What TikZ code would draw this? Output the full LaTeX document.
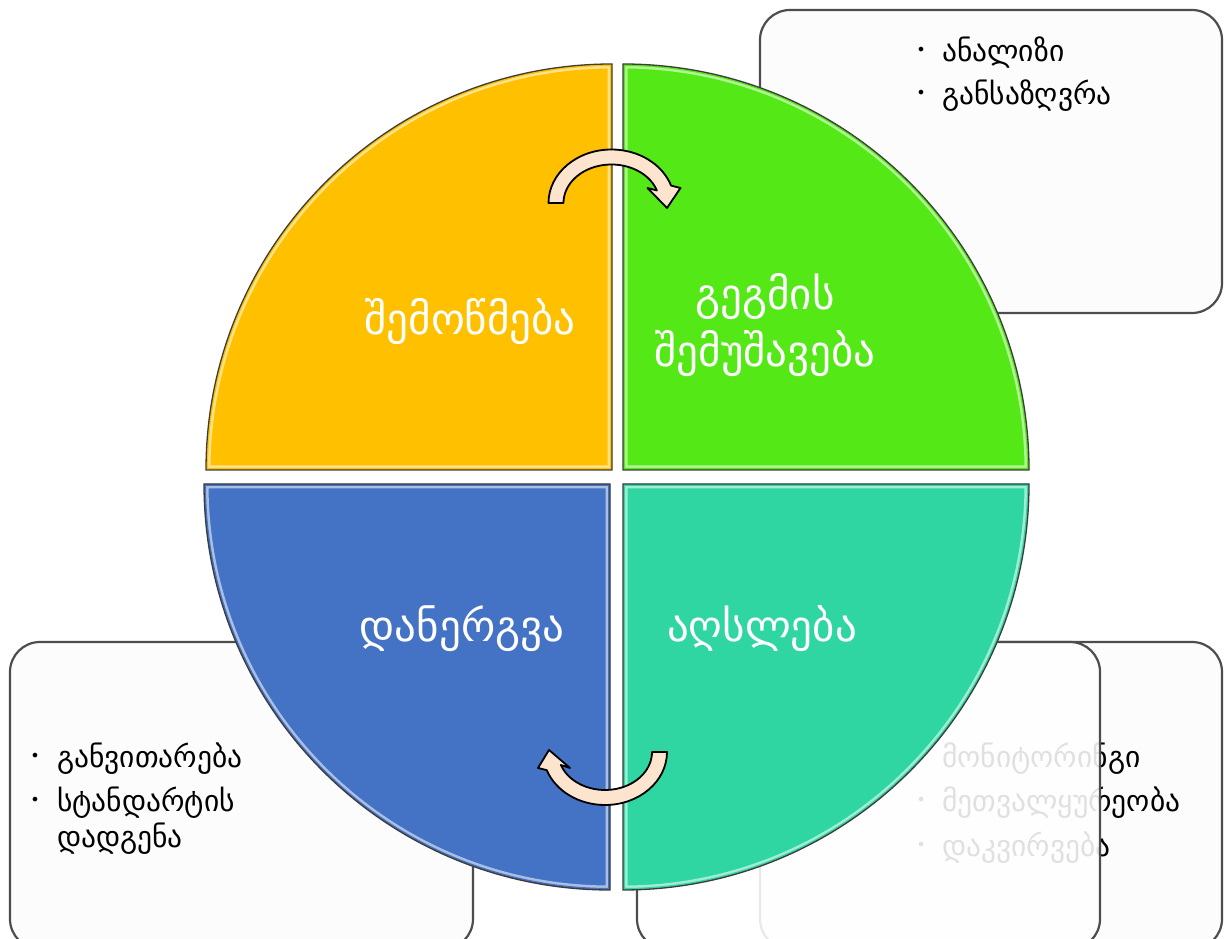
\documentclass[tikz,border=0pt]{standalone}
\usepackage{fontspec}
\setmainfont{DejaVu Sans}
\definecolor{qorange}{HTML}{FFC000}
\definecolor{qgreen}{HTML}{55E817}
\definecolor{qblue}{HTML}{4472C4}
\definecolor{qteal}{HTML}{2FD6A2}
\definecolor{qline}{HTML}{3C3C3C}
\definecolor{cardfill}{HTML}{FCFCFC}
\definecolor{cardline}{HTML}{4D4D4D}
\definecolor{arrowfill}{HTML}{FDE4CE}
\newcommand{\quadshape}[2]{%
  \fill[#1] #2;
  \begin{scope}
    \clip #2;
    \draw[white, opacity=.55, line width=9pt] #2;
    \draw[#1, line width=4pt] #2;
  \end{scope}
  \draw[qedge] #2;
}
\tikzset{
  card/.style={fill=cardfill, draw=cardline, line width=2.2pt, rounded corners=30pt},
  qlabel/.style={text=white, font=\fontsize{43}{48}\selectfont, anchor=base, inner sep=0pt},
  item/.style={font=\fontsize{29.5}{34}\selectfont, anchor=base west, inner sep=0pt},
  bul/.style={font=\fontsize{16}{18}\selectfont, anchor=base, inner sep=0pt},
  qedge/.style={draw=qline, line width=1.3pt},
  cyc/.style={fill=arrowfill, draw=black, line width=1.8pt, line join=round},
}
\begin{document}
\begin{tikzpicture}[x=1pt, y=1pt]
\useasboundingbox (0,0) rectangle (1228,939);
\fill[white] (0,0) rectangle (1228,939);
\clip (0,0) rectangle (1228,939);

% cards
\draw[card] (760,626) rectangle (1222,929);
\draw[card] (10,-10) rectangle (473,297);
\draw[card] (760,-10) rectangle (1222,297);

% texts of the back card (partly covered)
\node[item] (m1) at (942,171) {მონიტორინგი};
\node[bul] (mb2) at (921,133) {•};
\node[item] (m2) at (942,127) {მეთვალყურეობა};
\node[bul] (mb3) at (921,88) {•};
\node[item] (m3) at (942,82) {დაკვირვება};

% front card with translucent fill
\draw[card, fill=white, fill opacity=0.88] (637,-10) rectangle (1100,297);

% texts of the other cards
\node[bul] (ab1) at (921,883) {•};
\node[item] (a1) at (942,877) {ანალიზი};
\node[bul] (ab2) at (921,840) {•};
\node[item] (a2) at (942,834) {განსაზღვრა};

\node[bul] (db1) at (35,177) {•};
\node[item] (d1) at (57,171) {განვითარება};
\node[bul] (db2) at (35,133) {•};
\node[item] (d2) at (57,127) {სტანდარტის};
\node[item] (d3) at (57,91) {დადგენა};

% quadrants
\quadshape{qorange}{(612,469) -- (206,469) arc[start angle=180,end angle=90,radius=406pt] -- cycle}
\quadshape{qgreen}{(623,469) -- (623,875) arc[start angle=90,end angle=0,radius=406pt] -- cycle}
\quadshape{qblue}{(610,455) -- (204,455) arc[start angle=180,end angle=270,radius=406pt] -- cycle}
\quadshape{qteal}{(623,455) -- (1029,455) arc[start angle=0,end angle=-90,radius=406pt] -- cycle}

% cycle arrows
\begin{scope}[shift={(611.5,736)}]
  \draw[cyc] (180:63pt and 53.5pt) arc[start angle=180,end angle=19,x radius=63pt,y radius=53.5pt]
    -- (69,15) -- (55.5,-5) -- (36,15)
    -- (19:48pt and 38.5pt) arc[start angle=19,end angle=180,x radius=48pt,y radius=38.5pt] -- cycle;
\end{scope}
\begin{scope}[shift={(605,187)}]
  \draw[cyc] (0:62pt and 53pt) arc[start angle=0,end angle=-160,x radius=62pt,y radius=53pt]
    -- (-67,-16) -- (-56,2) -- (-35,-16)
    -- (-160:47pt and 38pt) arc[start angle=-160,end angle=0,x radius=47pt,y radius=38pt] -- cycle;
\end{scope}

% quadrant labels
\node[qlabel] (q1) at (470,604) {შემოწმება};
\node[qlabel] (q2a) at (765,629) {გეგმის};
\node[qlabel] (q2b) at (765,572) {შემუშავება};
\node[qlabel] (q3) at (462,297) {დანერგვა};
\node[qlabel] (q4) at (762,297) {აღსლება};
\end{tikzpicture}
\end{document}
